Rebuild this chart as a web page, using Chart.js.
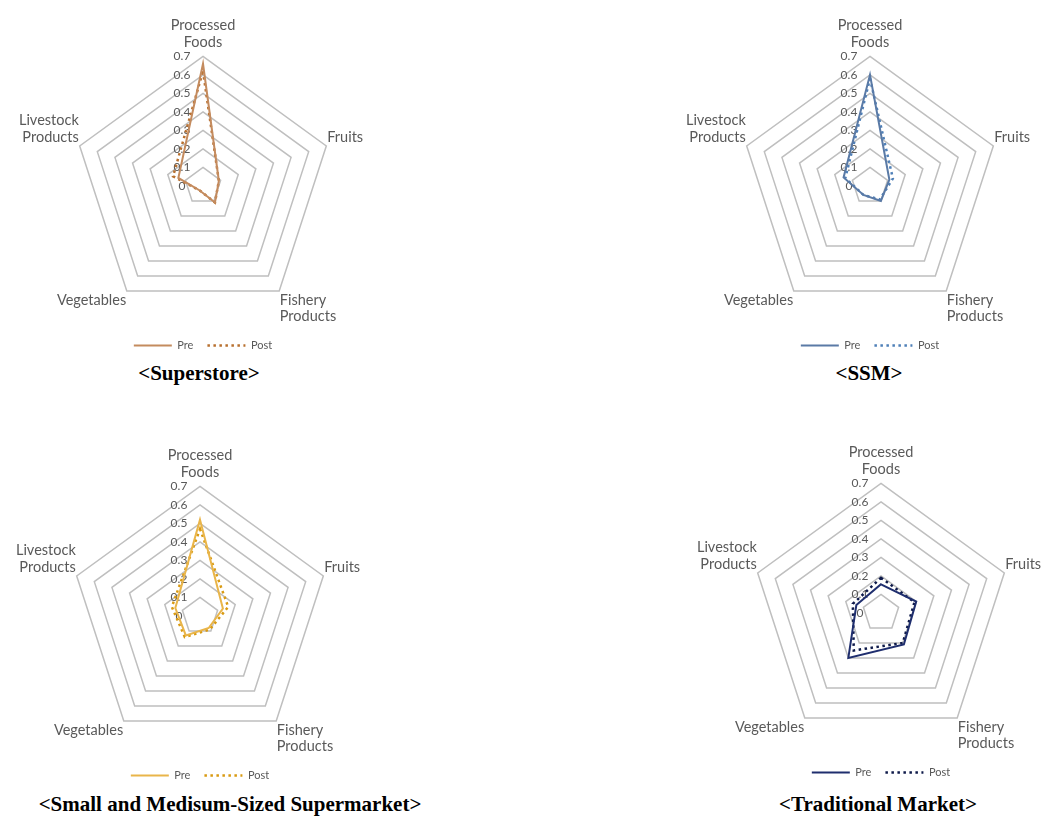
<!DOCTYPE html>
<html>
<head>
<meta charset="utf-8">
<script src="https://cdn.jsdelivr.net/npm/chart.js@4.4.1/dist/chart.umd.min.js"></script>
<style>
  body { margin: 0; background: #fff; width: 1047px; height: 817px; overflow: hidden; position: relative; }
  canvas { position: absolute; }
  .caption {
    position: absolute;
    transform: translateX(-50%);
    white-space: nowrap;
    font-family: "Liberation Serif", "Times New Roman", serif;
    font-weight: bold;
    font-size: 21px;
    color: #000;
  }
</style>
</head>
<body>
<canvas id="c1"></canvas>
<canvas id="c2"></canvas>
<canvas id="c3"></canvas>
<canvas id="c4"></canvas>
<div class="caption" style="left:199px; top:361px;">&lt;Superstore&gt;</div>
<div class="caption" style="left:869px; top:361px;">&lt;SSM&gt;</div>
<div class="caption" style="left:230px; top:792px;">&lt;Small and Medisum-Sized Supermarket&gt;</div>
<div class="caption" style="left:878px; top:792px;">&lt;Traditional Market&gt;</div>
<script>
// categories (axes of the radar)
const categories = [['Processed', 'Foods'], 'Fruits', ['Fishery', 'Products'], 'Vegetables', ['Livestock', 'Products']];
const seriesNames = ['Pre', 'Post'];

// values
const superstorePre  = [0.66, 0.09, 0.11, 0.03, 0.14];
const superstorePost = [0.62, 0.09, 0.11, 0.03, 0.17];
const ssmPre  = [0.60, 0.11, 0.10, 0.06, 0.15];
const ssmPost = [0.58, 0.13, 0.09, 0.06, 0.14];
const smsPre  = [0.52, 0.13, 0.08, 0.13, 0.14];
const smsPost = [0.47, 0.16, 0.09, 0.14, 0.16];
const tradPre  = [0.155, 0.20, 0.21, 0.30, 0.14];
const tradPost = [0.19, 0.19, 0.20, 0.25, 0.16];

// axis ticks
const tickMin = 0;
const tickMax = 0.7;
const tickStep = 0.1;

const grey = '#595959';
const tickFont = { family: 'Lato', size: 12 };

function fmt(v) {
  return v === 0 ? '0' : v.toFixed(1);
}

// legend: keep the dotted style of the dataset and leave a gap after "Pre"
function legendLabels(chart) {
  const items = Chart.defaults.plugins.legend.labels.generateLabels(chart);
  items.forEach((item, i) => {
    const ds = chart.data.datasets[item.datasetIndex];
    item.lineDash = ds.borderDash || [];
    item.lineWidth = ds.borderWidth;
    item.strokeStyle = ds.borderColor;
    if (i === 0) item.text += '\u2002\u2002';
  });
  return items;
}

// Chart.js ne dessine pas l'étiquette du centre (0) : on l'ajoute
const zeroTickLabel = {
  id: 'zeroTickLabel',
  beforeDatasetsDraw(chart) {
    const scale = chart.scales.r;
    const tick = scale.ticks[0];
    const ctx = chart.ctx;
    ctx.save();
    ctx.font = tickFont.size + 'px ' + tickFont.family;
    ctx.fillStyle = grey;
    ctx.textAlign = 'center';
    ctx.textBaseline = 'middle';
    ctx.fillText(tick.label, scale.xCenter, scale.yCenter - scale.getDistanceFromCenterForValue(tick.value));
    ctx.restore();
  }
};

// one radar per panel
function makeChart(p) {
  const canvas = document.getElementById(p.id);
  canvas.width = p.width;
  canvas.height = p.height;
  canvas.style.left = p.left + 'px';
  canvas.style.top = p.top + 'px';

  return new Chart(canvas, {
    type: 'radar',
    plugins: [zeroTickLabel],
    data: {
      labels: categories,
      datasets: [
        {
          label: seriesNames[0],
          data: p.pre,
          borderColor: p.preColor,
          backgroundColor: 'transparent',
          borderWidth: 2,
          pointRadius: 0,
          fill: false
        },
        {
          label: seriesNames[1],
          data: p.post,
          borderColor: p.postColor,
          backgroundColor: 'transparent',
          borderWidth: 2.5,
          borderDash: [2.5, 3.5],
          pointRadius: 0,
          fill: false
        }
      ]
    },
    options: {
      responsive: false,
      animation: false,
      events: [],
      plugins: {
        legend: {
          position: 'bottom',
          labels: {
            usePointStyle: true,
            pointStyle: 'line',
            pointStyleWidth: 38,
            color: grey,
            font: { family: 'Lato', size: 11 },
            padding: 3,
            generateLabels: legendLabels
          }
        },
        tooltip: { enabled: false }
      },
      scales: {
        r: {
          min: tickMin,
          max: tickMax,
          ticks: {
            stepSize: tickStep,
            color: grey,
            font: tickFont,
            showLabelBackdrop: false,
            backdropPadding: -6,
            // décale les étiquettes à gauche de l'axe, comme Excel
            callback: v => fmt(v) + '\u2002'.repeat(7)
          },
          grid: { color: '#BFBFBF', lineWidth: 1.5, circular: false },
          angleLines: { display: false },
          pointLabels: {
            color: grey,
            font: { family: 'Lato', size: 14.5, lineHeight: 1.15 },
            padding: ctx => (ctx.index === 0 ? 6 : 1)
          }
        }
      }
    }
  });
}

makeChart({ id: 'c1', left: -22, top: -2,  width: 450, height: 363, pre: superstorePre, post: superstorePost, preColor: '#C48B5E', postColor: '#B8702F' });
makeChart({ id: 'c2', left: 645, top: -2,  width: 450, height: 363, pre: ssmPre,        post: ssmPost,        preColor: '#5A7AA6', postColor: '#4F80B8' });
makeChart({ id: 'c3', left: -25, top: 428, width: 450, height: 363, pre: smsPre,        post: smsPost,        preColor: '#E9B54A', postColor: '#D99A12' });
makeChart({ id: 'c4', left: 656, top: 425, width: 450, height: 363, pre: tradPre,       post: tradPost,       preColor: '#1F2E6E', postColor: '#0E1A4A' });
</script>
</body>
</html>
